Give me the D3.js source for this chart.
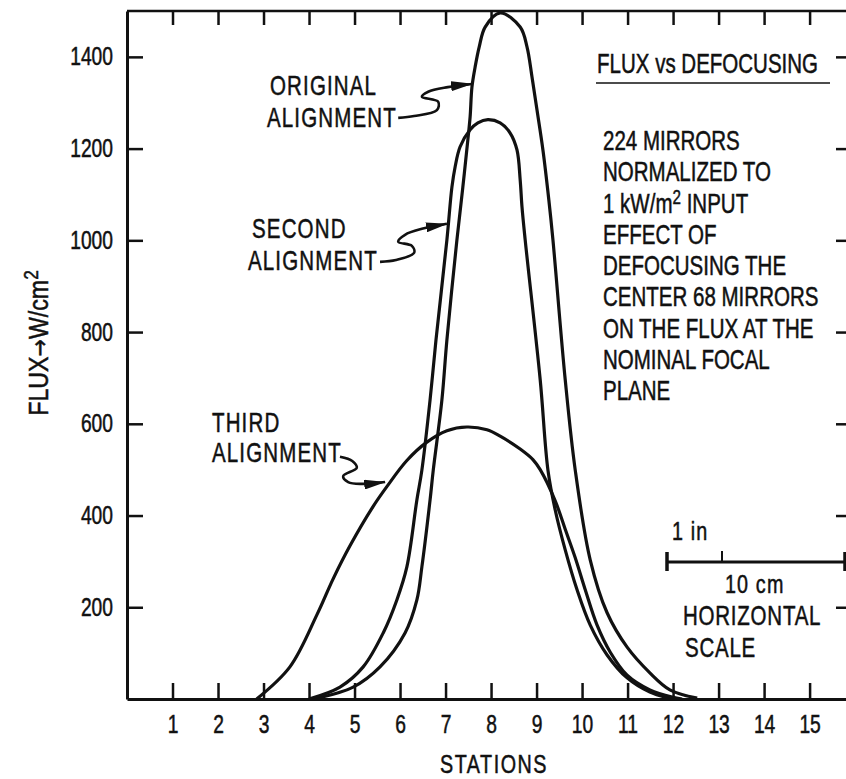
<!DOCTYPE html>
<html>
<head>
<meta charset="utf-8">
<script src="https://cdn.jsdelivr.net/npm/d3@7"></script>
<style>
body { margin: 0; background: #fff; }
svg { display: block; }
text { font-family: "Liberation Sans", Arial, sans-serif; fill: #111; stroke: #111; stroke-width: 0.5px; }
</style>
</head>
<body>
<svg id="chart" width="846" height="779"></svg>
<script>
// stations along the focal plane, flux in W/cm^2
var stations = [1, 2, 3, 4, 5, 6, 7, 8, 9, 10, 11, 12, 13, 14, 15];
var fluxTicks = [200, 400, 600, 800, 1000, 1200, 1400];

// [station, flux]
var original = [[4.1, 0], [4.97, 26], [5.56, 70], [6.11, 144], [6.37, 216], [6.48, 288], [6.66, 434],
  [6.73, 499], [6.92, 652], [7.03, 783], [7.25, 1001], [7.38, 1116], [7.49, 1219], [7.54, 1269],
  [7.58, 1334], [7.65, 1378], [7.74, 1422], [7.87, 1465], [8.2, 1496], [8.64, 1465], [8.79, 1422],
  [8.9, 1356], [9.01, 1284], [9.14, 1197], [9.27, 1088], [9.36, 1001], [9.63, 696], [9.85, 499],
  [10.18, 303], [10.55, 188], [10.99, 113], [11.49, 57], [11.93, 20], [12.53, 2]];
var second = [[4.0, 0], [4.68, 26], [5.19, 70], [5.63, 144], [5.93, 216], [6.15, 288], [6.37, 434],
  [6.48, 499], [6.66, 652], [6.79, 783], [7.03, 1001], [7.14, 1116], [7.21, 1160], [7.32, 1204],
  [7.54, 1241], [7.71, 1256], [7.93, 1263], [8.2, 1256], [8.42, 1234], [8.57, 1197], [8.64, 1132],
  [8.68, 1073], [8.75, 1001], [9.08, 696], [9.25, 499], [9.41, 412], [9.63, 325], [9.89, 238],
  [10.18, 161], [10.55, 96], [10.99, 46], [11.49, 15], [11.98, 0]];
var third = [[2.85, 0], [3.58, 70], [4.18, 185], [4.53, 262], [4.9, 334], [5.41, 420], [5.71, 463],
  [6.15, 520], [6.59, 560], [7.03, 585], [7.47, 593], [7.91, 587], [8.2, 573], [8.64, 545],
  [8.92, 522], [9.08, 500], [9.41, 432], [9.63, 370], [9.85, 308], [10.07, 238], [10.33, 161],
  [10.62, 102], [10.99, 52], [11.49, 20], [11.98, 4], [12.2, 0]];

// leader arrows from the labels to their curves
var originalLeader = [[5.96, 1267], [6.31, 1271], [6.81, 1284], [6.84, 1302], [6.48, 1313],
  [6.62, 1324], [7.05, 1334], [7.58, 1341]];
var secondLeader = [[5.56, 953], [5.91, 957], [6.31, 973], [6.26, 988], [5.96, 997],
  [6.11, 1012], [6.48, 1025], [7.03, 1036]];
var thirdLeader = [[4.68, 528], [4.95, 519], [5.05, 504], [4.75, 486], [4.86, 473],
  [5.16, 469], [5.67, 473]];

var curveLabels = [
  {lines: ["ORIGINAL", "ALIGNMENT"], x: [270, 267], y: [95, 127]},
  {lines: ["SECOND", "ALIGNMENT"], x: [252, 248], y: [238, 270]},
  {lines: ["THIRD", "ALIGNMENT"], x: [212, 212], y: [432, 462]}
];
var notes = ["224 MIRRORS", "NORMALIZED TO", "1 kW/m|2| INPUT", "EFFECT OF", "DEFOCUSING THE",
  "CENTER 68 MIRRORS", "ON THE FLUX AT THE", "NOMINAL FOCAL", "PLANE"];

var svg = d3.select("#chart");
var x = d3.scaleLinear().domain([0, 15.8]).range([127, 846]);
var y = d3.scaleLinear().domain([0, 1500]).range([699, 11]);

svg.append("defs").append("clipPath").attr("id", "plot")
  .append("rect").attr("x", 127).attr("y", 0).attr("width", 719).attr("height", 699);

// frame: top border + ticks, right-hand ticks
svg.append("line")
  .attr("x1", 127).attr("x2", 846)
  .attr("y1", y(1500)).attr("y2", y(1500))
  .attr("stroke", "#111").attr("stroke-width", 2.5);
svg.append("g")
  .attr("transform", "translate(0," + y(1500) + ")")
  .call(d3.axisTop(x).tickValues(stations).tickSize(-14).tickFormat(""))
  .call(function(g){ g.select(".domain").remove(); })
  .selectAll("line").attr("stroke", "#111").attr("stroke-width", 2.5);
svg.append("g")
  .attr("transform", "translate(846,0)")
  .call(d3.axisRight(y).tickValues(fluxTicks).tickSize(-10).tickFormat(""))
  .call(function(g){ g.select(".domain").remove(); })
  .selectAll("line").attr("stroke", "#111").attr("stroke-width", 2.5);

// axes
var yAxis = svg.append("g")
  .attr("transform", "translate(127,0)")
  .call(d3.axisLeft(y).tickValues(fluxTicks).tickFormat(d3.format("d"))
    .tickSize(-16).tickSizeOuter(0).tickPadding(14));
var xAxis = svg.append("g")
  .attr("transform", "translate(0,699)")
  .call(d3.axisBottom(x).tickValues(stations).tickFormat(d3.format("d"))
    .tickSize(-16).tickSizeOuter(0).tickPadding(16));
[yAxis, xAxis].forEach(function(g){
  g.select(".domain").attr("stroke", "#111").attr("stroke-width", 3);
  g.selectAll(".tick line").attr("stroke", "#111").attr("stroke-width", 2.5);
  g.selectAll(".tick text").attr("font-size", 25).attr("font-family", null).attr("fill", "#111")
    .attr("class", "narrow").attr("data-k", 0.77);
});

// the three flux profiles
var line = d3.line()
  .x(function(d){ return x(d[0]); })
  .y(function(d){ return y(d[1]); })
  .curve(d3.curveCatmullRom.alpha(0.5));
svg.append("g").attr("clip-path", "url(#plot)")
  .selectAll("path")
  .data([original, second, third])
  .enter()
  .append("path")
    .attr("d", line)
    .attr("fill", "none")
    .attr("stroke", "#111")
    .attr("stroke-width", 3.2)
    .attr("stroke-linejoin", "round");

// leaders
svg.select("defs").append("marker")
  .attr("id", "head")
  .attr("viewBox", "0 0 22 10")
  .attr("refX", 21).attr("refY", 5)
  .attr("markerWidth", 22).attr("markerHeight", 10)
  .attr("markerUnits", "userSpaceOnUse")
  .attr("orient", "auto")
  .append("path").attr("d", "M0,0L22,5L0,10Z").attr("fill", "#111");
var leader = d3.line()
  .x(function(d){ return x(d[0]); })
  .y(function(d){ return y(d[1]); })
  .curve(d3.curveCatmullRom);
svg.selectAll("path.leader")
  .data([originalLeader, secondLeader, thirdLeader])
  .enter()
  .append("path")
    .attr("class", "leader")
    .attr("d", leader)
    .attr("fill", "none")
    .attr("stroke", "#111")
    .attr("stroke-width", 2.6)
    .attr("marker-end", "url(#head)");

// condensed lettering: place each label by transform and squeeze it
function label(px, py, size, t, spacing, anchor) {
  return svg.append("text")
    .attr("class", "cond")
    .attr("data-x", px).attr("data-y", py)
    .attr("font-size", size)
    .attr("letter-spacing", spacing || 0)
    .attr("text-anchor", anchor || "start")
    .text(t);
}

curveLabels.forEach(function(c){
  c.lines.forEach(function(t, i){ label(c.x[i], c.y[i], 27, t, 1.5); });
});

// title and notes on the right
label(597, 73, 27, "FLUX vs DEFOCUSING");
svg.append("line")
  .attr("x1", 596).attr("x2", 830).attr("y1", 83).attr("y2", 83)
  .attr("stroke", "#111").attr("stroke-width", 1.6);
notes.forEach(function(t, i){
  var tx = label(603, 150 + i * 31.25, 27, "");
  t.split("|").forEach(function(part, j){
    var sp = tx.append("tspan").text(part);
    if (j == 1) sp.attr("dy", -9).attr("font-size", 20);
    if (j == 2) sp.attr("dy", 9);
  });
});

// horizontal scale bar
var bar = svg.append("g").attr("stroke", "#111").attr("stroke-width", 3);
bar.append("line").attr("x1", 667).attr("x2", 846).attr("y1", 562).attr("y2", 562);
bar.append("line").attr("x1", 667).attr("x2", 667).attr("y1", 552).attr("y2", 571).attr("stroke-width", 3.5);
bar.append("line").attr("x1", 845).attr("x2", 845).attr("y1", 552).attr("y2", 571).attr("stroke-width", 3.5);
bar.append("line").attr("x1", 722).attr("x2", 722).attr("y1", 551).attr("y2", 562).attr("stroke-width", 2);
label(672, 540, 26, "1 in", 1.5);
label(725, 593, 26, "10 cm", 1.5);
label(683, 625, 27, "HORIZONTAL", 1);
label(685, 657, 27, "SCALE", 1);

label(494, 773, 26, "STATIONS", 2, "middle");

svg.selectAll("text.cond").each(function(){
  d3.select(this)
    .attr("transform", "translate(" + this.getAttribute("data-x") + "," + this.getAttribute("data-y") + ") scale(0.76,1)");
});

// tick labels keep the axis layout, so squeeze them in place
svg.selectAll("text.narrow").each(function(){
  var k = +this.getAttribute("data-k");
  var w = this.getComputedTextLength();
  d3.select(this).attr("textLength", w * k).attr("lengthAdjust", "spacingAndGlyphs");
});

// y title
var yt = svg.append("text")
  .attr("transform", "translate(48,343) rotate(-90) scale(0.86,1)")
  .attr("text-anchor", "middle")
  .attr("font-size", 27);
yt.append("tspan").text("FLUX");
yt.append("tspan").attr("font-family", "DejaVu Sans").attr("font-size", 24).text("\u2192");
yt.append("tspan").text("W/cm");
yt.append("tspan").attr("dy", -10).attr("font-size", 20).text("2");
</script>
</body>
</html>
